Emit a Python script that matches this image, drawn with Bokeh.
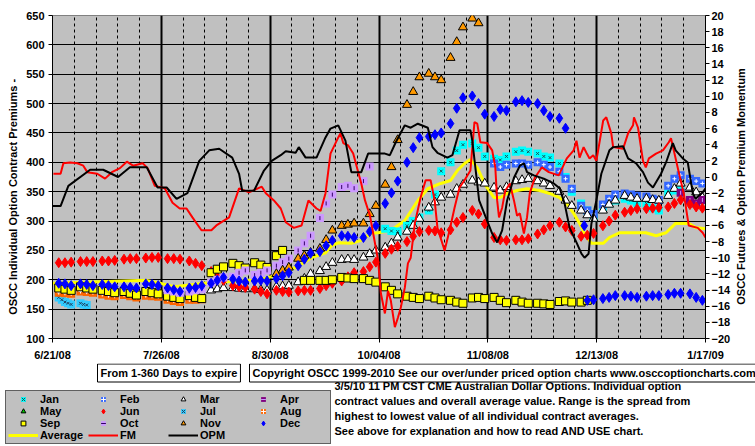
import math
from bokeh.plotting import figure
from bokeh.layouts import row
from bokeh.models import Range1d, LinearAxis, FixedTicker, Legend, LegendItem, Label
from bokeh.embed import file_html
from bokeh.resources import INLINE

FONT = "Liberation Sans"

# x = calendar days after 6/21/08
tick_days = [0, 35, 70, 105, 140, 175, 210]
tick_labels = ["6/21/08", "7/26/08", "8/30/08", "10/04/08", "11/08/08", "12/13/08", "1/17/09"]
week_days = list(range(0, 211, 7))
left_ticks = list(range(100, 651, 50))
right_ticks = list(range(-20, 21, 2))


def mwf(first_week, n, skip=0):
    """Mon/Wed/Fri sample dates (day numbers) starting in a given week."""
    out, k, slot = [], first_week, skip
    while len(out) < n:
        out.append(7 * k + (2, 4, 6)[slot])
        slot += 1
        if slot == 3:
            slot, k = 0, k + 1
    return out


# ---- lines -------------------------------------------------------------
avg_days = [0, 30.3, 34.5, 39.3, 48.8, 63.2, 68.6, 76.0, 79.2, 83.3,
            87.8, 89.7, 91.9, 96.1, 99.3, 102.5, 104.7, 108.8, 113.3, 117.5,
            120.7, 124.8, 128.0, 130.2, 132.5, 134.4, 136.6, 139.2, 142.0, 144.0,
            146.2, 149.4, 152.6, 156.7, 159.9, 163.1, 165.3, 167.6, 169.5, 171.1,
            173.3, 177.1, 179.1, 182.3, 186.7, 190.8, 194.1, 197.3, 200.4, 204.6,
            206.8, 210]
avg_vals = [194, 199, 194, 188, 194, 199, 202, 216, 224, 238,
            246, 258, 263, 262, 267, 279, 280, 284, 301, 335,
            355, 364, 369, 386, 398, 405, 391, 361, 340, 340,
            347, 352, 355, 352, 347, 340, 330, 313, 296, 279,
            262, 262, 272, 280, 280, 280, 275, 280, 296, 296,
            289, 287]

fm_days = [0.3, 2.6, 3.5, 5.7, 8.0, 9.9, 11.2, 14.4, 16.9, 19.1,
           21.7, 23.9, 25.9, 29.0, 30.6, 32.9, 36.1, 38.6, 40.9, 43.1,
           45.0, 47.9, 51.1, 52.7, 56.8, 60.0, 63.2, 67.3, 68.6, 71.2,
           73.4, 75.0, 77.6, 80.1, 82.3, 84.9, 86.2, 87.8, 89.4, 91.9,
           92.6, 93.5, 95.1, 96.7, 99.3, 100.5, 102.1, 104.7, 105.6, 106.9,
           107.9, 108.8, 110.1, 111.1, 112.0, 113.3, 114.3, 115.2, 116.5, 118.4,
           120.0, 121.6, 122.9, 123.8, 126.1, 127.7, 129.3, 130.9, 132.5, 134.4,
           135.7, 136.6, 137.6, 139.8, 141.4, 142.4, 143.0, 143.6, 144.6, 145.6,
           147.1, 148.4, 149.4, 150.3, 151.6, 152.6, 153.5, 155.1, 157.4, 159.6,
           162.8, 165.4, 167.6, 168.5, 169.5, 170.8, 171.7, 172.7, 173.9, 174.9,
           177.1, 178.1, 179.7, 180.3, 183.5, 185.1, 186.7, 187.0, 188.3, 189.9,
           190.8, 191.8, 194.1, 196.3, 198.2, 198.9, 199.8, 201.4, 203.0, 204.6,
           207.5, 209.1, 210]
fm_vals = [0.4, 0.4, 1.7, 1.8, 1.7, 1.4, 0.6, 0.4, -0.2, 0.6,
           1.1, 1.9, 1.4, 1.7, 1.1, -1.1, -1.4, -3.2, -3.9, -3.9,
           -5.0, -6.6, -6.6, -6.0, -5.0, -1.4, -1.9, -1.2, -2.0, -2.9,
           -3.9, -5.6, -6.3, -6.0, -2.9, -3.9, -4.2, -2.0, 2.9, 4.9,
           5.4, 4.2, 3.9, 2.9, -0.8, -2.9, -4.8, -10.3, -14.4, -16.9,
           -14.1, -15.3, -18.6, -17.4, -16.2, -13.7, -10.7, -10.0, -5.8, -2.5,
           -0.4, -0.4, -2.9, -6.3, -9.1, -6.6, -3.8, -1.3, -0.4, 0.8,
           6.8, 6.6, 4.3, 4.2, 3.3, 1.2, -2.9, -5.0, -3.8, -1.7,
           -0.8, -2.9, -4.8, -4.5, -7.0, -5.0, -2.0, -0.1, 1.2, 0.6,
           0.2, 2.3, 3.3, 4.5, 2.4, 3.7, 3.0, 2.3, 2.7, 2.0,
           7.0, 7.4, 5.4, 3.7, 3.5, 5.4, 6.4, 7.4, 6.1, 2.0,
           1.2, 2.3, 2.9, 3.3, 4.3, 4.8, 3.3, 0.6, -2.0, -6.0,
           -6.3, -6.9, -7.5]

opm_days = [0, 2.6, 5.1, 12.1, 16.3, 21.1, 24.9, 30.3, 33.8, 36.7,
            39.9, 43.4, 47.2, 50.4, 53.6, 57.8, 60, 61, 64.8, 68,
            70.5, 73.4, 75, 78.2, 79.2, 81.4, 84.9, 87.8, 89.4, 91.9,
            94.2, 96.1, 99.3, 101.5, 106.9, 108.5, 110.4, 113.3, 115.2, 117.5,
            120.7, 122.2, 123.8, 127, 128.6, 130.9, 134.4, 135, 137.2, 141.4,
            143, 144.6, 146.2, 148.4, 150.3, 151.6, 152.6, 154.8, 158, 161.2,
            163.1, 164.7, 166.3, 168.5, 170.1, 171.1, 172.4, 173.3, 174.9, 176.5,
            179.1, 180.3, 183.5, 185.1, 187.7, 189.9, 191.5, 193.1, 195.7, 197.3,
            199.5, 200.4, 202.7, 204.3, 205.9, 206.8, 209.1, 210]
opm_vals = [-3.6, -3.6, -1.1, 0.9, 0.9, 0.0, 1.2, 1.2, -1.3, -1.3,
            -2.7, -2.0, 2.0, 3.3, 3.5, 2.4, 0.4, -1.7, -1.7, 0.8,
            2.0, 2.7, 3.2, 3.0, 3.7, 2.4, 2.4, 4.9, 6.0, 6.4,
            4.5, 0.6, 0.6, 2.9, 2.9, 2.7, 4.3, 6.4, 6.1, 6.6,
            6.1, 3.7, 3.0, 2.4, 2.7, 5.8, 5.8, 4.5, -2.9, -7.0,
            -8.1, -6.6, -2.9, -0.1, 1.4, 1.7, 0.6, 0.2, -0.2, -0.8,
            -1.4, -3.3, -6.3, -8.1, -9.5, -10.0, -9.5, -5.8, -2.9, 0.4,
            3.3, 3.7, 3.8, 2.3, 1.7, 0.6, -0.7, -1.3, 0.4, 1.8,
            4.2, 3.3, 2.3, 1.8, -2.0, -2.7, -1.9, -1.4]

# ---- individual contracts (Mon/Wed/Fri samples) -------------------------
jan_vals = [287, 283, 282, 292, 300, 306, 318, 345, 385, 400, 420, 430,
            432, 425, 410, 406, 404, 410, 418, 420, 418, 415, 410, 408,
            398, 375, 350, 330, 318, 306, 323, 330, 335, 338, 335, 331,
            330, 322, 318, 347, 352, 352]
jan_days = mwf(15, len(jan_vals))

feb_vals = [398, 392, 396, 398, 398, 396, 400, 396, 392, 384, 372, 355,
            326, 318, 312, 328, 338, 345, 347, 345, 343, 342, 338, 336,
            360, 372, 378, 372, 368, 364]
feb_days = mwf(20, len(feb_vals))

mar_vals = [182, 184, 186, 186, 185, 184, 184, 183, 182, 188, 189, 190,
            196, 202, 210, 215, 222, 229, 234, 235, 234, 238, 244, 250,
            255, 262, 272, 282, 292, 304, 323, 332, 340, 345, 355, 362,
            369, 366, 364, 357, 352, 358, 368, 370, 372, 368, 364, 360,
            350, 335, 326, 318, 310, 304, 318, 328, 335, 343, 340, 338,
            338, 336, 335, 343, 355, 364, 357, 349, 340]
mar_days = mwf(7, len(mar_vals))

apr_days = [202, 205, 207, 209]
apr_vals = [348, 336, 330, 336]

may_days = []
may_vals = []

jun_vals = [229, 229, 230, 231, 231, 231, 232, 232, 233, 235, 236, 236,
            237, 238, 238, 236, 236, 235, 232, 228, 224, 214, 205, 199,
            190, 188, 187, 184, 180, 176, 182, 180, 179, 181, 182, 182,
            185, 190, 194, 198, 205, 212, 214, 222, 230, 245, 252, 257,
            265, 274, 282, 284, 283, 280, 285, 298, 306, 318, 312, 295,
            272, 268, 267, 268, 268, 270, 278, 285, 292, 298, 290, 284,
            274, 276, 279, 292, 300, 310, 315, 318, 321, 321, 322, 323,
            324, 330, 336, 328, 324, 322]
jun_days = mwf(0, len(jun_vals))

jul_days = [2, 3, 4, 5, 6, 9, 10, 11]
jul_vals = [170, 166, 162, 160, 158, 160, 158, 157]

aug_vals = [178, 177, 176, 180, 179, 178, 175, 173, 172, 174, 172, 170,
            173, 172, 171, 166, 164, 162, 166, 166, 167]
aug_days = mwf(0, len(aug_vals))

sep08_vals = [186, 184, 182, 188, 186, 184, 182, 180, 178, 180, 177, 174,
              180, 178, 176, 172, 170, 168, 173, 170, 168, 212, 218, 222,
              228, 224, 220, 229, 225, 221, 241, 250]
sep09_vals = [199, 199, 199, 199, 200, 204, 203, 202, 202, 199, 196,
              188, 182, 176, 172, 170, 168, 172, 169, 166, 165, 162, 160,
              169, 170, 168, 170, 165, 161, 165, 162, 160, 160, 159, 158,
              163, 164, 162, 162, 165]
sep_days = mwf(0, len(sep08_vals)) + mwf(11, len(sep09_vals), skip=1)
sep_vals = sep08_vals + sep09_vals

oct_vals = [182, 180, 178, 180, 182, 184, 195, 200, 204, 205, 212, 216,
            208, 212, 216, 224, 230, 236, 250, 262, 275, 305, 330, 345,
            358, 360, 356, 368, 393]
oct_days = mwf(5, len(oct_vals))

nov_vals = [210, 216, 221, 236, 241, 246, 253, 268, 284, 292, 294, 296,
            296, 312, 326, 362, 392, 438, 498, 520, 545, 551, 545, 540,
            578, 605, 630, 645, 637]
nov_days = mwf(10, len(nov_vals))

dec08_vals = [194, 193, 190, 193, 192, 190, 192, 190, 188, 188, 187, 186,
              193, 192, 190, 186, 183, 180, 186, 187, 190, 194, 199, 204,
              201, 198, 196, 198, 199, 198, 202, 207, 212, 224, 235, 245,
              248, 258, 267, 275, 274, 272, 272, 282, 292, 330, 348, 368,
              400, 425, 442, 444, 447, 450, 466, 492, 510, 513, 500, 482,
              478, 490, 488, 503, 505, 502, 500, 488, 478, 475, 458]
dec_lone_day, dec_lone_val = 171, 292
dec09_vals = [165, 166, 168, 170, 173, 173, 172, 170, 172, 173, 173,
              175, 177, 177, 176, 170, 165]
dec_days = mwf(0, len(dec08_vals)) + [dec_lone_day] + mwf(24, len(dec09_vals), skip=1)
dec_vals = dec08_vals + [dec_lone_val] + dec09_vals

# ---- marker styles ------------------------------------------------------
STY = {
    "Jan": [dict(marker="square", size=8, fill_color="#00FFFF", line_color=None),
            dict(marker="x", size=4, line_color="#205050", line_width=1)],
    "Feb": [dict(marker="square", size=8, fill_color="#3366FF", line_color=None),
            dict(marker="cross", size=4, line_color="white", line_width=1)],
    "Mar": [dict(marker="triangle", size=9, fill_color="white", line_color="black", line_width=1)],
    "Apr": [dict(marker="square", size=8, fill_color="#800080", line_color=None),
            dict(marker="dash", size=4, angle=math.pi / 2, line_color="#CC99FF", line_width=1)],
    "May": [dict(marker="triangle", size=6, fill_color="#00CC00", line_color="black", line_width=1)],
    "Jun": [dict(marker="diamond", size=10, fill_color="#FF0000", line_color="#FF0000")],
    "Jul": [dict(marker="square", size=8, fill_color="#33CCFF", line_color=None),
            dict(marker="x", size=4, line_color="#204060", line_width=1)],
    "Aug": [dict(marker="square", size=8, fill_color="#FF6600", line_color=None),
            dict(marker="cross", size=4, line_color="white", line_width=1)],
    "Sep": [dict(marker="square", size=8, fill_color="#FFFF00", line_color="black", line_width=1)],
    "Oct": [dict(marker="square", size=8, fill_color="#CC99FF", line_color=None),
            dict(marker="dash", size=4, angle=math.pi / 2, line_color="#330066", line_width=1)],
    "Nov": [dict(marker="triangle", size=9, fill_color="#FF9900", line_color="black", line_width=1)],
    "Dec": [dict(marker="diamond", size=10, fill_color="#0000FF", line_color="#0000FF")],
}
LINE_STY = {
    "Average": dict(line_color="#FFFF00", line_width=3),
    "FM": dict(line_color="#FF0000", line_width=2),
    "OPM": dict(line_color="black", line_width=2),
}
SERIES = [("Jan", jan_days, jan_vals), ("Feb", feb_days, feb_vals), ("Mar", mar_days, mar_vals),
          ("Apr", apr_days, apr_vals), ("May", may_days, may_vals), ("Jun", jun_days, jun_vals),
          ("Jul", jul_days, jul_vals), ("Aug", aug_days, aug_vals), ("Sep", sep_days, sep_vals),
          ("Oct", oct_days, oct_vals), ("Nov", nov_days, nov_vals), ("Dec", dec_days, dec_vals)]
# legend reading order (column by column, four rows)
LEGEND_ORDER = ["Jan", "May", "Sep", "Average", "Feb", "Jun", "Oct", "FM",
                "Mar", "Jul", "Nov", "OPM", "Apr", "Aug", "Dec"]

# ---- main chart -----------------------------------------------------------
p = figure(width=733, height=363, x_range=Range1d(0, 210), y_range=Range1d(100, 650),
           output_backend="svg", toolbar_location=None,
           min_border_left=52, min_border_right=23, min_border_top=15, min_border_bottom=25,
           background_fill_color="#C0C0C0", border_fill_color="white")
p.outline_line_color = "#808080"
p.extra_y_ranges = {"mom": Range1d(-20, 20)}

xt = FixedTicker(ticks=tick_days, minor_ticks=week_days)
yt = FixedTicker(ticks=left_ticks, minor_ticks=[])
p.xaxis.ticker = xt
p.yaxis.ticker = yt
p.xaxis.major_label_overrides = {d: t for d, t in zip(tick_days, tick_labels)}
p.xgrid.ticker = xt
p.ygrid.ticker = yt
p.xgrid.grid_line_color = "black"
p.xgrid.grid_line_width = 2
p.xgrid.minor_grid_line_color = "black"
p.xgrid.minor_grid_line_dash = "3 3"
p.xgrid.minor_grid_line_width = 1
p.ygrid.grid_line_color = "black"
p.ygrid.grid_line_width = 1

ra = LinearAxis(y_range_name="mom", ticker=FixedTicker(ticks=right_ticks, minor_ticks=[]))
p.add_layout(ra, "right")

la = p.yaxis[0]
for ax in (p.xaxis[0], la, ra):
    ax.major_label_text_font = FONT
    ax.major_label_text_font_style = "bold"
    ax.major_label_text_font_size = "11px"
    ax.major_label_text_color = "black"
    ax.axis_line_color = "black"
    ax.major_tick_line_color = "black"
    ax.major_tick_out = 4
    ax.major_tick_in = 0
    ax.minor_tick_line_color = None
    ax.axis_label_text_font = FONT
    ax.axis_label_text_font_style = "bold"
    ax.axis_label_text_font_size = "11px"
    ax.axis_label_text_color = "black"
la.major_label_standoff = 4
ra.major_label_standoff = 2
p.xaxis[0].major_label_standoff = 6
NB = "\u00a0"
la.axis_label = "OSCC Individual Option Contract Premiums -" + NB * 13
la.axis_label_standoff = 4

r_avg = p.line(avg_days, avg_vals, **LINE_STY["Average"])
for name, xs, ys in SERIES:
    for st in STY[name]:
        p.scatter(xs, ys, **st)
r_fm = p.line(fm_days, fm_vals, y_range_name="mom", **LINE_STY["FM"])
r_opm = p.line(opm_days, opm_vals, y_range_name="mom", **LINE_STY["OPM"])

# ---- right-hand axis title (narrow strip next to the chart) ---------------
t = figure(width=22, height=363, x_range=Range1d(0, 1), y_range=Range1d(0, 1),
           output_backend="svg", toolbar_location=None,
           min_border_left=0, min_border_right=0, min_border_top=15, min_border_bottom=25,
           x_axis_location=None, y_axis_location=None, background_fill_color="white")
t.outline_line_color = None
t.grid.visible = False
t.add_layout(Label(x=7, y=152, x_units="screen", y_units="screen",
                   text="OSCC Futures & Option Premium Momentum", angle=math.pi / 2,
                   text_font=FONT, text_font_style="bold", text_font_size="11px",
                   text_color="black", text_align="center", text_baseline="middle"))

# ---- footer: legend and notes (separate root, pixel coordinates) ----------
b = figure(width=755, height=83, x_range=Range1d(0, 755), y_range=Range1d(0, 83),
           output_backend="svg", toolbar_location=None, min_border=0,
           x_axis_location=None, y_axis_location=None, background_fill_color="white")
b.outline_line_color = None
b.grid.visible = False

# legend proxies: one off-canvas point each, only their style is shown
PROXY = ([-50, -40], [-50, -50])
proxies = {}
for name, _, _ in SERIES:
    proxies[name] = [b.scatter(PROXY[0][:1], PROXY[1][:1], **st) for st in STY[name]]
for name in LINE_STY:
    proxies[name] = [b.line(PROXY[0], PROXY[1], **LINE_STY[name])]

legend = Legend(items=[LegendItem(label=n, renderers=proxies[n]) for n in LEGEND_ORDER],
                location=(5, 2), ncols=4,
                background_fill_color="#C0C0C0", background_fill_alpha=1.0,
                border_line_color="black", border_line_width=1,
                label_text_font=FONT, label_text_font_style="bold", label_text_font_size="11px",
                label_text_color="black",
                glyph_width=30, glyph_height=12, label_height=10, label_width=48, label_standoff=2,
                spacing=0, padding=2, margin=0)
b.add_layout(legend)


def lab(x, y, text, **kw):
    opts = dict(x=x, y=y, x_units="screen", y_units="screen", text=text,
                text_font=FONT, text_font_style="bold", text_font_size="11px",
                text_color="black", text_baseline="middle", text_align="left")
    opts.update(kw)
    b.add_layout(Label(**opts))


lab(97, 73.5, "From 1-360 Days to expire", background_fill_color="white",
    border_line_color="black", padding=3)
lab(249, 73.5, "Copyright OSCC 1999-2010 See our over/under priced option charts www.osccoptioncharts.com",
    background_fill_color="white", border_line_color="black", padding=3)
lab(334, 60.5, "3/5/10 11 PM CST CME Australian Dollar Options. Individual option")
lab(334, 45.5, "contract values and overall average value. Range is the spread from")
lab(334, 30.5, "highest to lowest value of all individual contract averages.")
lab(334, 16, " See above for explanation and how to read AND USE chart.")

open("out.html", "w").write(file_html([row(p, t, spacing=0), b], INLINE))
